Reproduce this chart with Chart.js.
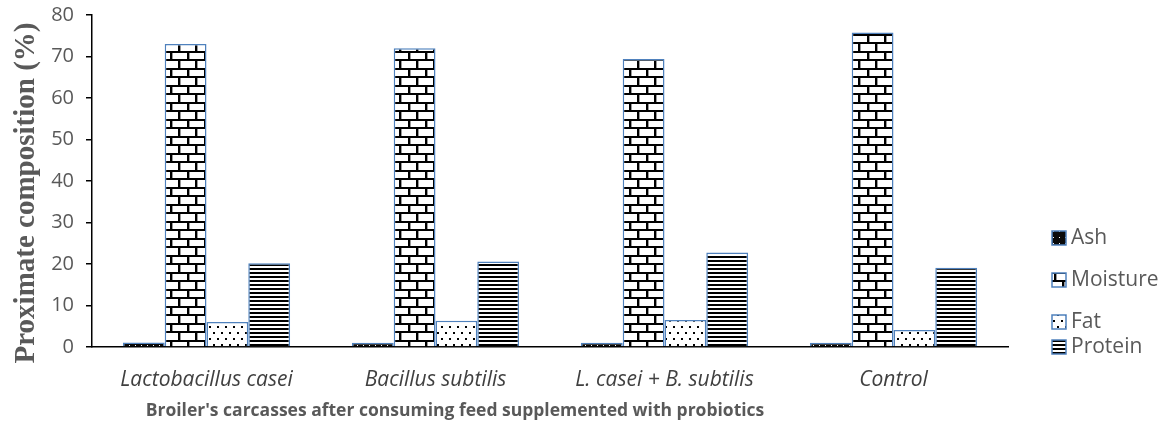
<!DOCTYPE html>
<html>
<head>
<meta charset="utf-8">
<title>Proximate composition of broiler carcasses</title>
<script src="https://cdn.jsdelivr.net/npm/chart.js@4.4.1/dist/chart.umd.min.js"></script>
<style>
  html, body { margin: 0; padding: 0; background: #fff; }
  #wrap { width: 1165px; height: 432px; position: relative; }
</style>
</head>
<body>
<div id="wrap"><canvas id="chart" width="1165" height="432"></canvas></div>
<script>
// Treatments (x categories)
const categories = ['Lactobacillus casei', 'Bacillus subtilis', 'L. casei + B. subtilis', 'Control'];

// Proximate composition (%) per treatment
const ash      = [1.1, 1.0, 1.0, 1.0];
const moisture = [73.0, 72.0, 69.4, 75.8];
const fat      = [6.0, 6.3, 6.5, 4.1];
const protein  = [20.2, 20.6, 22.8, 19.1];

const seriesNames = ['Ash', 'Moisture', 'Fat', 'Protein'];
const yTicks = [0, 10, 20, 30, 40, 50, 60, 70, 80];

const yTitle = 'Proximate composition (%)';
const xTitle = "Broiler's carcasses after consuming feed supplemented with probiotics";

// ---- fill patterns -------------------------------------------------------
function makePattern(w, h, paint) {
  const c = document.createElement('canvas');
  c.width = w; c.height = h;
  const g = c.getContext('2d');
  paint(g, w, h);
  return document.getElementById('chart').getContext('2d').createPattern(c, 'repeat');
}

// dark fill with a sparse light dot
const ashPattern = makePattern(6, 6, (g, w, h) => {
  g.fillStyle = '#0a0a0a'; g.fillRect(0, 0, w, h);
  g.fillStyle = '#ffffff'; g.fillRect(3, 3, 1, 1);
});

// brick wall: white bricks, black mortar with a grey shadow
const brickPattern = makePattern(17, 17, (g, w, h) => {
  g.fillStyle = '#ffffff'; g.fillRect(0, 0, w, h);
  g.fillStyle = '#000';
  g.fillRect(0, 0, w, 2);
  g.fillRect(0, 8, w, 2);
  g.fillRect(0, 2, 2, 6);
  g.fillRect(8, 10, 2, 7);
  g.fillStyle = '#9a9a9a';
  g.fillRect(2, 2, 1, 6);
  g.fillRect(10, 10, 1, 7);
});

// dotted: small black dots in an offset grid
const dotPattern = makePattern(8, 12, (g, w, h) => {
  g.fillStyle = '#ffffff'; g.fillRect(0, 0, w, h);
  g.fillStyle = '#000';
  g.fillRect(1, 2, 2, 2);
  g.fillRect(5, 8, 2, 2);
});

// horizontal stripes
const stripePattern = makePattern(4, 4, (g, w, h) => {
  g.fillStyle = '#ffffff'; g.fillRect(0, 0, w, h);
  g.fillStyle = '#000'; g.fillRect(0, 0, w, 2);
});

const fills = [ashPattern, brickPattern, dotPattern, stripePattern];
const values = [ash, moisture, fat, protein];
const edge = '#4f81bd';

const datasets = seriesNames.map((name, i) => ({
  label: name,
  data: values[i],
  backgroundColor: fills[i],
  borderColor: edge,
  borderWidth: 1.5,
  borderSkipped: 'bottom',
  categoryPercentage: 0.73,
  barPercentage: 1.0
}));

const greyText = '#595959';

// axis titles and the side legend, drawn onto the same canvas
const decorations = {
  id: 'decorations',
  afterDraw(chart) {
    const ctx = chart.ctx;
    ctx.save();

    // y-axis title (rotated serif)
    ctx.translate(27, 193);
    ctx.rotate(-Math.PI / 2);
    ctx.font = 'bold 29px "Liberation Serif", "Times New Roman", serif';
    ctx.fillStyle = greyText;
    ctx.textAlign = 'center';
    ctx.textBaseline = 'middle';
    ctx.fillText(yTitle, 0, 0);
    ctx.setTransform(1, 0, 0, 1, 0, 0);

    // x-axis title
    ctx.font = 'bold 17.5px "Open Sans", sans-serif';
    ctx.fillStyle = greyText;
    ctx.textAlign = 'center';
    ctx.textBaseline = 'middle';
    ctx.fillText(xTitle, 455, 411);

    // legend
    const rows = [238, 280, 322, 347];
    ctx.font = '21px "Open Sans", sans-serif';
    ctx.textAlign = 'left';
    chart.data.datasets.forEach((ds, i) => {
      const y = rows[i];
      ctx.fillStyle = ds.backgroundColor;
      ctx.fillRect(1052, y - 7, 14, 14);
      ctx.strokeStyle = edge;
      ctx.lineWidth = 1.5;
      ctx.strokeRect(1052, y - 7, 14, 14);
      ctx.fillStyle = greyText;
      ctx.fillText(ds.label, 1071, y);
    });
    ctx.restore();
  }
};

new Chart(document.getElementById('chart'), {
  type: 'bar',
  data: { labels: categories, datasets },
  options: {
    responsive: false,
    animation: false,
    layout: { padding: { left: 0, right: 157, top: 15, bottom: 0 } },
    plugins: {
      legend: { display: false },
      tooltip: { enabled: false }
    },
    scales: {
      x: {
        grid: { display: false },
        border: { display: true, color: '#000', width: 1.5 },
        ticks: {
          color: '#404040',
          padding: 12,
          maxRotation: 0,
          font: { family: '"Open Sans", sans-serif', size: 21, style: 'italic' }
        },
        afterFit(scale) { scale.height = 85; scale.paddingLeft = 0; scale.paddingRight = 0; }
      },
      y: {
        min: 0,
        max: 80,
        afterBuildTicks(scale) { scale.ticks = yTicks.map(v => ({ value: v })); },
        grid: { drawOnChartArea: false, drawTicks: true, tickLength: 6, color: '#000', lineWidth: 1.5 },
        border: { display: true, color: '#000', width: 1.5 },
        ticks: {
          color: greyText,
          padding: 12,
          font: { family: '"Open Sans", sans-serif', size: 20 }
        },
        afterFit(scale) { scale.width = 92; scale.paddingTop = 0; scale.paddingBottom = 0; }
      }
    }
  },
  plugins: [decorations]
});
</script>
</body>
</html>
